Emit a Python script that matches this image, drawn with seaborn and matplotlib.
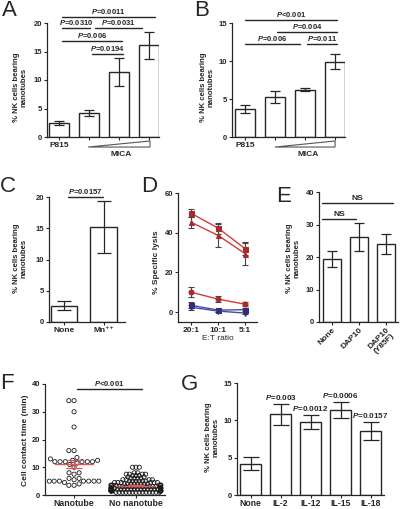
import numpy as np
import pandas as pd
import matplotlib
matplotlib.use("Agg")
import matplotlib.pyplot as plt
import matplotlib.transforms as mtrans
from matplotlib.patches import Polygon
import seaborn as sns

# ---- data ----
a_groups = ["P815", "MICA-1", "MICA-2", "MICA-3"]
a_mean = [2.45, 4.2, 11.4, 16.1]
a_err = [0.35, 0.6, 2.4, 2.4]

b_groups = ["P815", "MICA-1", "MICA-2", "MICA-3"]
b_mean = [3.7, 5.3, 6.2, 9.9]
b_err = [0.5, 0.8, 0.2, 1.0]

c_groups = ["None", "Mn\u207a\u207a"]
c_mean = [2.6, 15.2]
c_err = [0.7, 4.1]

d_ratios = ["20:1", "10:1", "5:1"]
d_red_sq = [49.7, 42.3, 32.0]
d_red_sq_err = [2.0, 2.8, 3.0]
d_red_tri = [45.2, 38.6, 29.5]
d_red_tri_err = [2.6, 5.8, 6.0]
d_red_circ = [10.0, 6.5, 4.0]
d_red_circ_err = [2.4, 1.5, 1.0]
d_blue_sq = [3.4, 1.0, 1.2]
d_blue_sq_err = [1.5, 0.8, 0.8]
d_blue_tri = [2.4, 0.5, -0.5]
d_blue_tri_err = [1.2, 0.6, 0.6]

e_groups = ["None", "DAP10", "DAP10\n(Y85F)"]
e_mean = [19.4, 26.2, 24.0]
e_err = [2.6, 4.4, 3.2]

f_nanotube = [34, 34, 30, 24.5, 16, 16, 13.5, 13, 12.5, 12.5, 12, 12, 12, 12, 12, 12,
              11.5, 11, 10, 8, 8, 7.5, 6, 6, 5.5, 5, 5, 5, 5, 5, 5, 5, 4.5, 4, 3.5, 3.5]
f_no_nanotube = ([10] * 3 + [8] * 2 + [7.5] * 4 + [7] * 3 + [6.5] * 2 + [6] * 4 +
                 [5.5] * 4 + [5] * 6 + [4.5] * 6 + [4] * 8 + [3.5] * 10 + [3] * 12 +
                 [2.5] * 12 + [2] * 16 + [1.5] * 16 + [1] * 14)

g_groups = ["None", "IL-2", "IL-12", "IL-15", "IL-18"]
g_mean = [4.2, 10.8, 9.8, 11.4, 8.6]
g_err = [0.85, 1.4, 0.9, 1.05, 1.2]
g_p = ["", "0.003", "0.0012", "0.0006", "0.0157"]

# ---- style ----
sns.set_theme(style="ticks")
plt.rcParams['font.family'] = ['Liberation Sans', 'DejaVu Sans']
plt.rcParams['font.weight'] = 'bold'
plt.rcParams['mathtext.fontset'] = 'custom'
plt.rcParams['mathtext.it'] = 'Liberation Sans:italic:bold'
plt.rcParams['mathtext.rm'] = 'Liberation Sans:bold'

INK = '#262626'
W, H = 401, 509
fig = plt.figure(figsize=(W / 100, H / 100), dpi=100)


def box(l, t, r, b):
    return fig.add_axes([l / W, 1 - b / H, (r - l) / W, (b - t) / H])


def style(ax, fs=5.5):
    sns.despine(ax=ax)
    ax.tick_params(length=2.2, width=0.8, pad=1.2, labelsize=fs, colors=INK)
    for s in ax.spines.values():
        s.set_linewidth(0.9)
        s.set_color(INK)
    ax.set_xlabel('')
    ax.set_ylabel('')


def bars(ax, groups, means, errs, width, cap):
    df = pd.DataFrame({'g': groups, 'v': means})
    sns.barplot(data=df, x='g', y='v', order=groups, color='white', saturation=1,
                edgecolor=INK, linewidth=1.0, width=width, errorbar=None, ax=ax)
    ax.errorbar(range(len(groups)), means, yerr=errs, fmt='none', ecolor=INK,
                elinewidth=0.9, capsize=cap, capthick=0.9, zorder=5)


def sig(ax, x0, x1, y, label, fs=5.5):
    ax.plot([x0, x1], [y, y], color=INK, lw=1.0, clip_on=False)
    ax.annotate(label, ((x0 + x1) / 2, y), xytext=(0, 0.8), textcoords='offset points',
                ha='center', va='bottom', fontsize=fs, annotation_clip=False)


def ylab(x, y, s, fs=5.6):
    fig.text(x / W, 1 - y / H, s, rotation=90, ha='center', va='center',
             fontsize=fs, multialignment='center', linespacing=1.15)


def letter(x, y, s):
    fig.text(x / W, 1 - y / H, s, ha='left', va='top', fontsize=16, fontweight='normal')


def wedge(ax, x0, x1, xm, label):
    tr = mtrans.blended_transform_factory(ax.transData, ax.transAxes)
    ax.add_patch(Polygon([(x0, -0.088), (x1, -0.035), (x1, -0.088)], closed=True,
                         fc='white', ec='#555555', lw=0.8, transform=tr, clip_on=False))
    ax.text(xm, -0.155, label, transform=tr, ha='center', va='center', fontsize=6)


ylbl = "% NK cells bearing\nnanotubes"

# ---- A ----
ax = box(47, 23, 159, 137)
bars(ax, a_groups, a_mean, a_err, 0.67, 3.8)
ax.set_xlim(-0.4, 3.33)
ax.set_ylim(0, 20)
ax.set_yticks([0, 5, 10, 15, 20])
style(ax)
ax.set_xticks(range(4))
ax.set_xticklabels(["P815", "", "", ""], fontsize=6)
sig(ax, 0.1, 3.2, 21.05, "$P$=0.0011")
sig(ax, 0.1, 1.03, 19.1, "$P$=0.0310")
sig(ax, 1.2, 2.77, 19.1, "$P$=0.0031")
sig(ax, 0.1, 2.1, 16.9, "$P$=0.006")
sig(ax, 1.1, 2.13, 14.6, "$P$=0.0194")
wedge(ax, 0.97, 3.03, 2.07, "MICA")
ylab(20, 87, ylbl)
letter(2, 0, "A")

# ---- B ----
ax = box(232, 23, 345, 137)
bars(ax, b_groups, b_mean, b_err, 0.67, 3.8)
ax.set_xlim(-0.43, 3.33)
ax.set_ylim(0, 15)
ax.set_yticks([0, 5, 10, 15])
style(ax)
ax.set_xticks(range(4))
ax.set_xticklabels(["P815", "", "", ""], fontsize=6)
sig(ax, 0.0, 3.07, 15.4, "$P$<0.001")
sig(ax, 1.07, 3.07, 13.8, "$P$=0.004")
sig(ax, 0.0, 1.83, 12.2, "$P$=0.006")
sig(ax, 2.07, 3.07, 12.2, "$P$=0.011")
wedge(ax, 1.0, 3.0, 2.1, "MICA")
ylab(207, 87, ylbl)
letter(194, 0, "B")

# ---- C ----
ax = box(49, 197, 125, 322)
bars(ax, c_groups, c_mean, c_err, 0.67, 5.0)
ax.set_xlim(-0.375, 1.53)
ax.set_ylim(0, 20)
ax.set_yticks([0, 5, 10, 15, 20])
style(ax)
ax.tick_params(axis='x', labelsize=6)
sig(ax, 0.1, 0.98, 20.0, "$P$=0.0157")
ylab(20, 258, ylbl)
letter(0, 176, "C")

# ---- D ----
ax = box(178, 193, 257, 322)
pos = np.arange(len(d_ratios))
d_series = [
    (d_red_sq, d_red_sq_err, 's', '#d43a3a', '#a32d2d'),
    (d_red_tri, d_red_tri_err, '^', '#d43a3a', '#a32d2d'),
    (d_red_circ, d_red_circ_err, 'o', '#d43a3a', '#a32d2d'),
    (d_blue_sq, d_blue_sq_err, 's', '#4a4aa8', '#2e2e7a'),
    (d_blue_tri, d_blue_tri_err, 'v', '#4a4aa8', '#2e2e7a'),
]
for vals, errs, mk, lc, mc in d_series:
    ax.errorbar(pos, vals, yerr=errs, fmt='none', ecolor='#444444', elinewidth=0.8,
                capsize=2.0, capthick=0.8, zorder=2)
    sns.lineplot(x=pos, y=vals, color=lc, lw=1.0, marker=mk, markersize=3.6,
                 markerfacecolor=mc, markeredgecolor=mc, ax=ax, zorder=3)
ax.set_xlim(-0.5, 2.45)
ax.set_ylim(-5, 60)
ax.set_yticks([0, 20, 40, 60])
ax.set_xticks(pos)
style(ax)
ax.set_xticklabels(d_ratios, fontsize=6)
ax.set_xlabel("E:T ratio", fontsize=6, labelpad=1)
ylab(157, 262, "% Specific lysis", fs=6)
letter(141, 176, "D")

# ---- E ----
ax = box(319, 192, 398, 322)
bars(ax, e_groups, e_mean, e_err, 0.67, 3.6)
ax.set_xlim(-0.48, 2.44)
ax.set_ylim(0, 40)
ax.set_yticks([0, 10, 20, 30, 40])
style(ax)
ax.set_xticks(range(3))
ax.set_xticklabels(e_groups, rotation=45, ha='right', rotation_mode='anchor',
                   fontsize=6, linespacing=1.0)
sig(ax, -0.37, 2.26, 36.6, "NS", fs=6)
sig(ax, -0.37, 0.89, 31.7, "NS", fs=6)
ylab(293, 258, ylbl)
letter(276, 186, "E")

# ---- F ----
ax = box(45, 384, 165, 495)
f_order = ["Nanotube", "No nanotube"]
f_df = pd.DataFrame({
    'grp': [f_order[0]] * len(f_nanotube) + [f_order[1]] * len(f_no_nanotube),
    't': f_nanotube + f_no_nanotube,
})
# the crowded group is swarmed with small dots, then drawn with full-size rings
sns.swarmplot(data=f_df[f_df.grp == f_order[0]], x='grp', y='t', order=f_order,
              size=3.0, color='black', linewidth=0.6, ax=ax, warn_thresh=1.0)
sns.swarmplot(data=f_df[f_df.grp == f_order[1]], x='grp', y='t', order=f_order,
              size=1.7, color='black', linewidth=0.6, ax=ax, warn_thresh=1.0)
ax.set_xlim(-0.47, 1.47)
ax.set_ylim(0, 40)
fig.canvas.draw()
for coll in ax.collections:
    if 'draw' in coll.__dict__:
        del coll.draw
    coll.set_sizes([9.0])
    coll.set_facecolor('none')
    coll.set_edgecolor('#1a1a1a')
    coll.set_linewidth(0.6)
for i, vals in enumerate([f_nanotube, f_no_nanotube]):
    m = np.mean(vals)
    se = np.std(vals, ddof=1) / np.sqrt(len(vals))
    ax.plot([i - 0.31, i + 0.31], [m, m], color='#e05555', lw=1.0, zorder=6)
    ax.errorbar([i], [m], yerr=[se], fmt='none', ecolor='#e05555', elinewidth=0.9,
                capsize=5.5, capthick=0.9, zorder=6)
ax.set_yticks([0, 10, 20, 30, 40])
style(ax)
ax.tick_params(axis='x', labelsize=6.3, pad=0.6, length=2)
sig(ax, 0.05, 1.1, 38.2, "$P$<0.001")
ylab(26, 440, "Cell contact time (min)", fs=6)
letter(0, 373, "F")

# ---- G ----
ax = box(237, 383, 384, 495)
bars(ax, g_groups, g_mean, g_err, 0.73, 5.5)
ax.set_xlim(-0.45, 4.45)
ax.set_ylim(0, 15)
ax.set_yticks([0, 5, 10, 15])
style(ax)
ax.tick_params(axis='x', labelsize=6.2, pad=0.6, length=2)
for i, p in enumerate(g_p):
    if p:
        ax.annotate("$P$=" + p, (i, g_mean[i] + g_err[i]), xytext=(0, 1.5),
                    textcoords='offset points', ha='center', va='bottom', fontsize=5.8,
                    annotation_clip=False)
ylab(212, 437, ylbl)
letter(181, 374, "G")

fig.savefig("out.png", dpi=100)
